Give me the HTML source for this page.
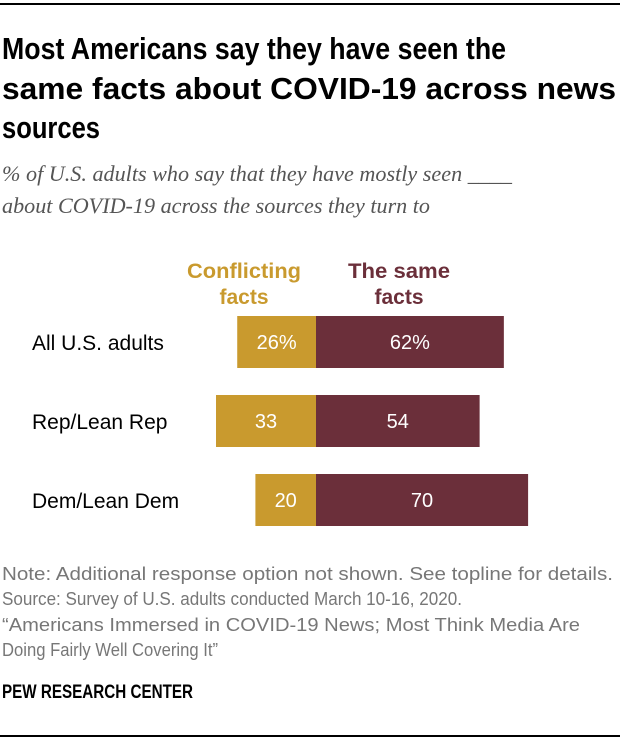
<!DOCTYPE html>
<html><head><meta charset="utf-8"><style>
html,body{margin:0;padding:0;background:#fff;}
svg{display:block;}
text{font-family:"Liberation Sans",sans-serif;}
</style></head><body>
<svg width="620" height="740" viewBox="0 0 620 740">
<rect x="0" y="3" width="620" height="2" fill="#000"/>
<g font-weight="bold" font-size="31" fill="#000">
<text x="2" y="59" textLength="504" lengthAdjust="spacingAndGlyphs">Most Americans say they have seen the</text>
<text x="2" y="99" textLength="614" lengthAdjust="spacingAndGlyphs">same facts about COVID-19 across news</text>
<text x="2" y="138" textLength="98" lengthAdjust="spacingAndGlyphs">sources</text>
</g>
<g font-style="italic" font-size="22" fill="#555">
<text x="2" y="181" style="font-family:'Liberation Serif',serif" textLength="510" lengthAdjust="spacingAndGlyphs">% of U.S. adults who say that they have mostly seen ____</text>
<text x="2" y="213" style="font-family:'Liberation Serif',serif" textLength="428" lengthAdjust="spacingAndGlyphs">about COVID-19 across the sources they turn to</text>
</g>
<g font-weight="bold" font-size="21" text-anchor="middle">
<text x="244" y="278" fill="#c99a2e" textLength="114" lengthAdjust="spacingAndGlyphs">Conflicting</text>
<text x="244" y="304" fill="#c99a2e">facts</text>
<text x="399" y="278" fill="#6b2f3a" textLength="102" lengthAdjust="spacingAndGlyphs">The same</text>
<text x="399" y="304" fill="#6b2f3a">facts</text>
</g>
<g id="bars"></g>
<g font-size="18" fill="#777">
<text x="2" y="580" textLength="611" lengthAdjust="spacingAndGlyphs">Note: Additional response option not shown. See topline for details.</text>
<text x="2" y="605" textLength="460" lengthAdjust="spacingAndGlyphs">Source: Survey of U.S. adults conducted March 10-16, 2020.</text>
<text x="2" y="631" textLength="578" lengthAdjust="spacingAndGlyphs">“Americans Immersed in COVID-19 News; Most Think Media Are</text>
<text x="2" y="656" textLength="216" lengthAdjust="spacingAndGlyphs">Doing Fairly Well Covering It”</text>
</g>
<text x="2" y="698" font-size="19" font-weight="bold" fill="#000" textLength="191" lengthAdjust="spacingAndGlyphs">PEW RESEARCH CENTER</text>
<rect x="0" y="735" width="620" height="2" fill="#000"/>
</svg>
<script>
const categories = ["All U.S. adults", "Rep/Lean Rep", "Dem/Lean Dem"];
const conflicting = [26, 33, 20];
const same = [62, 54, 70];
const valueLabelsC = ["26%", "33", "20"];
const valueLabelsS = ["62%", "54", "70"];
const NS = "http://www.w3.org/2000/svg";
const g = document.getElementById("bars");
const x0 = 316, k = 3.03;
const xs = v => v * k;
const rowY = i => 316 + i * 79;
const bh = 52;
function mk(tag, attrs){const e=document.createElementNS(NS,tag);for(const a in attrs)e.setAttribute(a,attrs[a]);return e;}
categories.forEach((c,i)=>{
  const y=rowY(i);
  const lab=mk("text",{x:32,y:y+bh/2+8,"font-size":21,fill:"#000"});
  
  
  lab.textContent=c; g.appendChild(lab);
  const wc=xs(conflicting[i]);
  const r1=mk("rect",{x:x0-wc,y:y,width:wc,height:bh,fill:"#c99a2e"});
  
  
  g.appendChild(r1);
  const ws=xs(same[i]);
  const r2=mk("rect",{x:x0,y:y,width:ws,height:bh,fill:"#6b2f3a"});
  
  
  g.appendChild(r2);
  const t1=mk("text",{x:x0-wc/2,y:y+bh/2+7,"font-size":20,fill:"#fff","text-anchor":"middle"});
  
  
  t1.textContent=valueLabelsC[i]; g.appendChild(t1);
  const t2=mk("text",{x:x0+ws/2,y:y+bh/2+7,"font-size":20,fill:"#fff","text-anchor":"middle"});
  
  
  t2.textContent=valueLabelsS[i]; g.appendChild(t2);
});
</script>
</body></html>
